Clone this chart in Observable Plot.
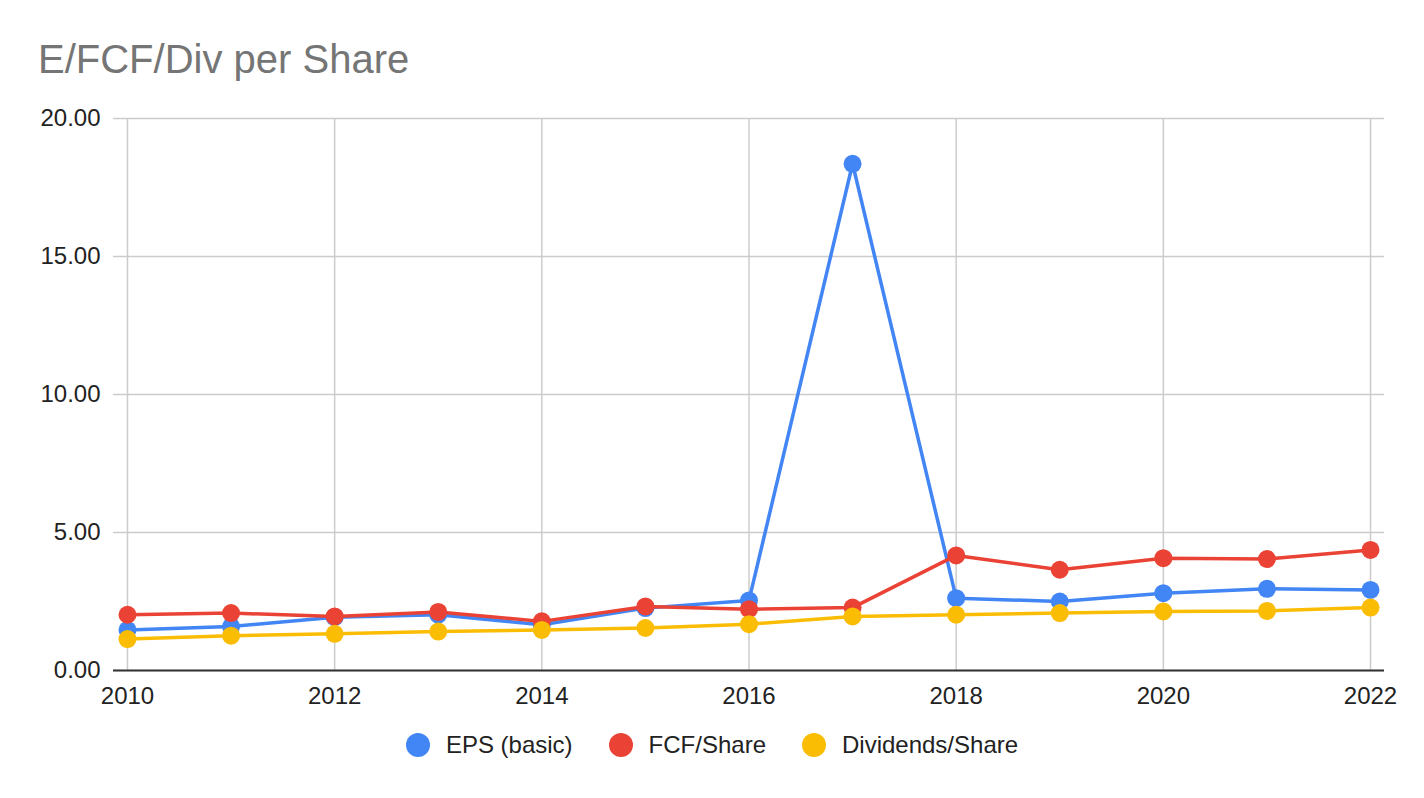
<!DOCTYPE html>
<html>
<head>
<meta charset="utf-8">
<script src="https://cdn.jsdelivr.net/npm/d3@7"></script>
<script src="https://cdn.jsdelivr.net/npm/@observablehq/plot@0.6"></script>
<style>
  html, body { margin: 0; padding: 0; background: #fff; }
  body { width: 1424px; height: 798px; overflow: hidden; font-family: "Liberation Sans", Arial, sans-serif; }
  #title { height: 95px; box-sizing: border-box; padding-left: 38px; padding-top: 39px; font-size: 40px; line-height: 40px; color: #757575; white-space: nowrap; }
  #chart svg { display: block; }
  #legend { display: flex; justify-content: center; align-items: center; height: 50px; font-size: 24px; color: #222; }
  .item { display: flex; align-items: center; margin: 0 18px; }
  .sw { width: 24px; height: 24px; border-radius: 50%; margin-right: 16px; }
</style>
</head>
<body>
<div id="title">E/FCF/Div per Share</div>
<div id="chart"></div>
<div id="legend"></div>
<script>
const years = [2010, 2011, 2012, 2013, 2014, 2015, 2016, 2017, 2018, 2019, 2020, 2021, 2022];
const epsBasic = [1.47, 1.59, 1.93, 2.02, 1.66, 2.26, 2.54, 18.36, 2.62, 2.50, 2.80, 2.96, 2.92];
const fcfShare = [2.02, 2.08, 1.96, 2.12, 1.78, 2.32, 2.22, 2.28, 4.17, 3.65, 4.07, 4.04, 4.37];
const divShare = [1.14, 1.26, 1.33, 1.41, 1.47, 1.54, 1.68, 1.96, 2.02, 2.08, 2.14, 2.16, 2.28];
const seriesNames = ["EPS (basic)", "FCF/Share", "Dividends/Share"];
const seriesColors = ["#4285F4", "#EA4335", "#FBBC04"];
const xTicks = [2010, 2012, 2014, 2016, 2018, 2020, 2022];
const yTicks = [0, 5, 10, 15, 20];

const seriesValues = [epsBasic, fcfShare, divShare];
const rows = seriesValues.map(vals => years.map((yr, i) => ({year: yr, value: vals[i]})));

const marks = [
  Plot.gridY(yTicks, {stroke: "#cccccc", strokeOpacity: 1, strokeWidth: 1.5}),
  Plot.gridX(xTicks, {stroke: "#cccccc", strokeOpacity: 1, strokeWidth: 1.5}),
  Plot.axisX(xTicks, {tickSize: 0, tickPadding: 16, tickFormat: d => String(d), label: null, fill: "#222"}),
  Plot.axisY(yTicks, {tickSize: 0, tickPadding: 13, tickFormat: d => d.toFixed(2), label: null, fill: "#222"}),
  Plot.ruleY([0], {stroke: "#333333", strokeWidth: 2})
];
rows.forEach((data, k) => {
  marks.push(Plot.line(data, {x: "year", y: "value", stroke: seriesColors[k], strokeWidth: 3.5}));
  marks.push(Plot.dot(data, {x: "year", y: "value", r: 9, fill: seriesColors[k], stroke: "none"}));
});

const chart = Plot.plot({
  width: 1424,
  height: 625,
  marginLeft: 113,
  marginRight: 40,
  marginTop: 23,
  marginBottom: 50,
  style: {fontSize: "24px", fontFamily: "'Liberation Sans', Arial, sans-serif", color: "#222", background: "#fff"},
  x: {domain: [2009.865, 2022.135]},
  y: {domain: [0, 20]},
  marks
});
document.getElementById("chart").appendChild(chart);

const legend = document.getElementById("legend");
seriesNames.forEach((name, k) => {
  const item = document.createElement("div");
  item.className = "item";
  const sw = document.createElement("div");
  sw.className = "sw";
  sw.style.background = seriesColors[k];
  const t = document.createElement("span");
  t.textContent = name;
  item.appendChild(sw);
  item.appendChild(t);
  legend.appendChild(item);
});
</script>
</body>
</html>
